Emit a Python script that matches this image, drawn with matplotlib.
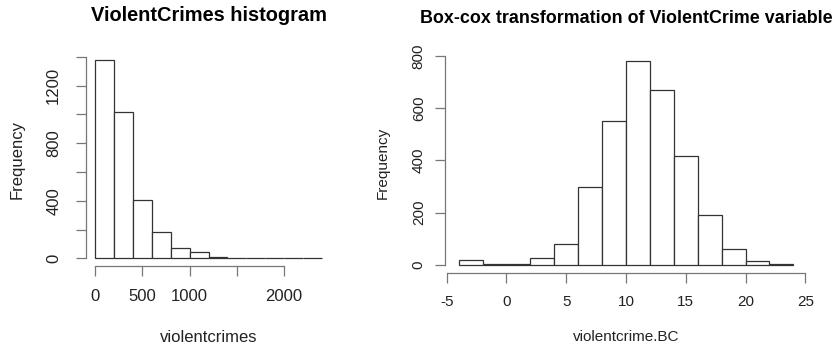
import numpy as np
import matplotlib
matplotlib.use("Agg")
import matplotlib.pyplot as plt

plt.rcParams['font.family'] = ['Liberation Sans', 'DejaVu Sans']

# Raw violent crime counts, bins of width 200
crime_edges = [0, 200, 400, 600, 800, 1000, 1200, 1400, 1600, 1800, 2000, 2200, 2400]
crime_counts = [1378, 1020, 407, 184, 70, 44, 9, 6, 2, 1, 1, 1]
crime_yticks = [0, 200, 400, 600, 800, 1000, 1200, 1400]
crime_ylabels = ['0', '', '400', '', '800', '', '1200', '']
crime_xticks = [0, 500, 1000, 1500, 2000]
crime_xlabels = ['0', '500', '1000', '', '2000']

# Box-Cox transformed values, bins of width 2
bc_edges = [-4, -2, 0, 2, 4, 6, 8, 10, 12, 14, 16, 18, 20, 22, 24]
bc_counts = [18, 1, 3, 24, 78, 299, 553, 783, 669, 418, 192, 62, 14, 4]
bc_yticks = [0, 200, 400, 600, 800]
bc_ylabels = ['0', '200', '400', '600', '800']
bc_xticks = [-5, 0, 5, 10, 15, 20, 25]
bc_xlabels = ['-5', '0', '5', '10', '15', '20', '25']

W, H = 836, 350
fig = plt.figure(figsize=(W / 100, H / 100), dpi=100)

EDGE = '#333333'
AXC = '#777777'
TXT = '#222222'


def px_axes(x0, x1, ytop, ybot):
    return fig.add_axes([x0 / W, (H - ybot) / H, (x1 - x0) / W, (ybot - ytop) / H])


def r_range(lo, hi):
    d = 0.04 * (hi - lo)
    return lo - d, hi + d


def r_hist(ax, edges, counts, xticks, xlabels, yticks, ylabels,
           title, xlabel, fs, title_fs, ypad, title_y, xlab_y, ylab_x):
    edges = np.asarray(edges, dtype=float)
    ax.bar(edges[:-1], counts, width=np.diff(edges), align='edge',
           facecolor='white', edgecolor=EDGE, linewidth=0.9)
    ax.set_xlim(*r_range(edges[0], edges[-1]))
    ax.set_ylim(*r_range(0, max(counts)))
    for s in ('top', 'right'):
        ax.spines[s].set_visible(False)
    for s in ('left', 'bottom'):
        ax.spines[s].set_color(AXC)
        ax.spines[s].set_linewidth(0.9)
    ax.spines['left'].set_bounds(yticks[0], yticks[-1])
    ax.spines['bottom'].set_bounds(xticks[0], xticks[-1])
    ax.set_xticks(xticks)
    ax.set_xticklabels(xlabels)
    ax.set_yticks(yticks)
    ax.set_yticklabels(ylabels, rotation=90, va='center')
    ax.tick_params(axis='both', length=7, width=0.9, color=AXC,
                   labelsize=fs, labelcolor=TXT)
    ax.tick_params(axis='x', pad=9)
    ax.tick_params(axis='y', pad=ypad)
    ax.set_facecolor('none')

    bb = ax.get_position()
    cx = (bb.x0 + bb.x1) / 2
    cy = (bb.y0 + bb.y1) / 2
    fig.text(cx, (H - title_y) / H, title, ha='center', va='baseline',
             fontsize=title_fs, fontweight='bold', color='black')
    fig.text(cx, (H - xlab_y) / H, xlabel, ha='center', va='center',
             fontsize=fs, color=TXT)
    fig.text(ylab_x / W, cy, 'Frequency', ha='center', va='center',
             rotation=90, fontsize=fs, color=TXT)


ax1 = px_axes(86.2, 330.9, 52.1, 266.4)
r_hist(ax1, crime_edges, crime_counts, crime_xticks, crime_xlabels,
       crime_yticks, crime_ylabels, 'ViolentCrimes histogram', 'violentcrimes',
       fs=12, title_fs=14.4, ypad=11, title_y=21, xlab_y=338, ylab_x=17.5)

ax2 = px_axes(445.3, 806.7, 52.4, 272.9)
r_hist(ax2, bc_edges, bc_counts, bc_xticks, bc_xlabels,
       bc_yticks, bc_ylabels, 'Box-cox transformation of ViolentCrime variable',
       'violentcrime.BC',
       fs=11, title_fs=12.9, ypad=7, title_y=22.7, xlab_y=337, ylab_x=382.5)

fig.savefig('out.png', dpi=100, facecolor='white')
